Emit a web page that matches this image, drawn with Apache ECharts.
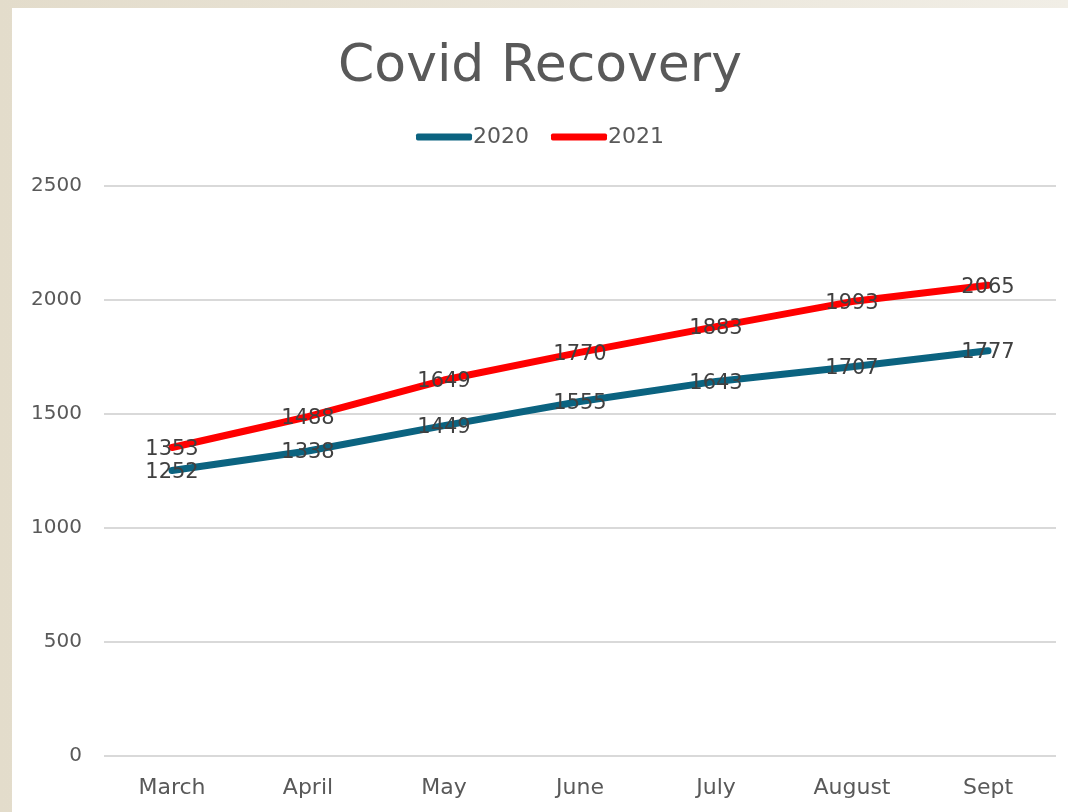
<!DOCTYPE html>
<html>
<head>
<meta charset="utf-8">
<script src="https://cdn.jsdelivr.net/npm/echarts@6/dist/echarts.min.js"></script>
<style>
  html, body { margin: 0; padding: 0; }
  body { width: 1068px; height: 812px; background: linear-gradient(90deg, #e3dccb 0%, #f1eee6 100%); position: relative; overflow: hidden; }
  #chart { position: absolute; left: 12px; top: 8px; width: 1056px; height: 804px; background: #fff; }
</style>
</head>
<body>
<div id="chart"></div>
<script>
// ===== Data =====
const months = ['March', 'April', 'May', 'June', 'July', 'August', 'Sept'];
const values2020 = [1252, 1338, 1449, 1555, 1643, 1707, 1777];
const values2021 = [1353, 1488, 1649, 1770, 1883, 1993, 2065];

const fontFam = '"Century Gothic", "DejaVu Sans", Lato, sans-serif';

function lineSeries(name, data, color) {
  return {
    name, type: 'line', data,
    smooth: false,
    showSymbol: true, symbol: 'circle', symbolSize: 1,
    itemStyle: { color },
    lineStyle: { color, width: 7, cap: 'round', join: 'round' },
    label: {
      show: true, position: 'inside', offset: [0, 2],
      color: '#404040', fontSize: 21, fontFamily: fontFam
    }
  };
}

document.addEventListener('DOMContentLoaded', () => {
  const chart = echarts.init(document.getElementById('chart'));
  chart.setOption({
    animation: false,
    title: {
      text: 'Covid Recovery', left: 'center', top: 28,
      textStyle: { fontSize: 52, fontWeight: 'normal', color: '#595959', fontFamily: fontFam }
    },
    legend: {
      top: 113, left: 'center', itemWidth: 56, itemHeight: 7, itemGap: 22,
      icon: 'roundRect',
      textStyle: { fontSize: 22, color: '#595959', fontFamily: fontFam, padding: [0, 0, 0, -4] },
      data: ['2020', '2021']
    },
    grid: { left: 92, right: 12, top: 178, bottom: 56 },
    xAxis: {
      type: 'category', data: months, boundaryGap: true,
      axisLine: { show: false }, axisTick: { show: false },
      axisLabel: { fontSize: 22, color: '#595959', fontFamily: fontFam, margin: 21 }
    },
    yAxis: {
      type: 'value', min: 0, max: 2500, interval: 500,
      axisLine: { show: false }, axisTick: { show: false },
      axisLabel: { fontSize: 20, color: '#595959', fontFamily: fontFam, margin: 22, formatter: v => String(v) },
      splitLine: { lineStyle: { color: '#d9d9d9', width: 2 } }
    },
    series: [
      lineSeries('2020', values2020, '#0b6380'),
      lineSeries('2021', values2021, '#ff0000')
    ]
  });
});
</script>
</body>
</html>
